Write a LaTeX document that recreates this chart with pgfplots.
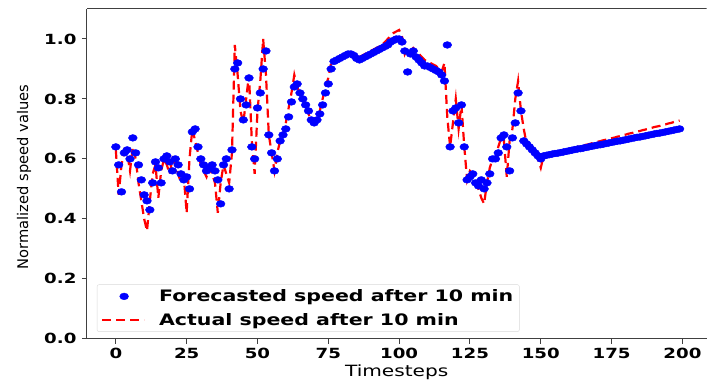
\documentclass[border=0pt]{standalone}
\usepackage{pgfplots}
\usepackage{pgfplotstable}
\pgfplotsset{compat=1.18}
\usepackage{fontspec}
\setmainfont{DejaVu Sans}[FakeStretch=1.3]
\newfontfamily\ylfont{DejaVu Sans}
\pgfplotstableread{
t a f
0 0.63 0.64
1 0.48 0.58
2 0.58 0.49
3 0.63 0.62
4 0.62 0.63
5 0.56 0.60
6 0.64 0.67
7 0.60 0.62
8 0.52 0.58
9 0.46 0.53
10 0.40 0.48
11 0.36 0.46
12 0.46 0.43
13 0.55 0.52
14 0.58 0.59
15 0.47 0.57
16 0.56 0.52
17 0.60 0.60
18 0.58 0.61
19 0.55 0.59
20 0.60 0.56
21 0.58 0.60
22 0.55 0.58
23 0.52 0.55
24 0.54 0.53
25 0.42 0.54
26 0.60 0.50
27 0.70 0.69
28 0.66 0.70
29 0.62 0.64
30 0.58 0.60
31 0.56 0.58
32 0.54 0.56
33 0.57 0.57
34 0.55 0.58
35 0.52 0.56
36 0.42 0.53
37 0.52 0.45
38 0.58 0.58
39 0.55 0.60
40 0.52 0.50
41 0.62 0.63
42 0.98 0.90
43 0.88 0.92
44 0.76 0.80
45 0.72 0.73
46 0.80 0.78
47 0.88 0.87
48 0.66 0.64
49 0.55 0.60
50 0.76 0.77
51 0.86 0.82
52 1.00 0.90
53 0.88 0.96
54 0.68 0.68
55 0.62 0.62
56 0.56 0.56
57 0.62 0.60
58 0.66 0.66
59 0.68 0.68
60 0.72 0.70
61 0.77 0.74
62 0.82 0.79
63 0.88 0.84
64 0.84 0.85
65 0.82 0.82
66 0.80 0.80
67 0.78 0.78
68 0.75 0.76
69 0.73 0.73
70 0.72 0.72
71 0.74 0.73
72 0.76 0.75
73 0.80 0.78
74 0.84 0.82
75 0.87 0.85
76 0.92 0.90
77 0.93 0.925
78 0.935 0.93
79 0.94 0.935
80 0.945 0.94
81 0.95 0.945
82 0.955 0.95
83 0.955 0.95
84 0.95 0.945
85 0.945 0.935
86 0.94 0.93
87 0.945 0.935
88 0.95 0.94
89 0.955 0.945
90 0.96 0.95
91 0.965 0.955
92 0.97 0.96
93 0.975 0.965
94 0.98 0.97
95 0.99 0.975
96 1.00 0.98
97 1.01 0.99
98 1.02 0.995
99 1.025 1.00
100 1.03 1.00
101 1.01 0.99
102 0.95 0.96
103 0.97 0.89
104 0.96 0.95
105 0.97 0.96
106 0.96 0.94
107 0.95 0.93
108 0.94 0.92
109 0.93 0.91
110 0.925 0.91
111 0.92 0.905
112 0.915 0.90
113 0.91 0.895
114 0.90 0.89
115 0.89 0.88
116 0.92 0.86
117 0.74 0.98
118 0.64 0.64
119 0.72 0.76
120 0.80 0.77
121 0.70 0.72
122 0.78 0.78
123 0.64 0.64
124 0.53 0.53
125 0.56 0.54
126 0.55 0.55
127 0.51 0.52
128 0.50 0.51
129 0.47 0.53
130 0.45 0.50
131 0.52 0.52
132 0.57 0.55
133 0.60 0.60
134 0.60 0.60
135 0.64 0.62
136 0.67 0.67
137 0.66 0.68
138 0.54 0.64
139 0.66 0.56
140 0.70 0.67
141 0.80 0.72
142 0.86 0.82
143 0.76 0.76
144 0.70 0.66
145 0.65 0.65
146 0.64 0.64
147 0.63 0.63
148 0.62 0.62
149 0.60 0.61
150 0.57 0.60
151 0.61 0.61
152 0.613 0.612
153 0.615 0.614
154 0.618 0.616
155 0.620 0.618
156 0.623 0.619
157 0.625 0.621
158 0.627 0.623
159 0.630 0.625
160 0.632 0.627
161 0.635 0.629
162 0.637 0.631
163 0.640 0.633
164 0.642 0.634
165 0.645 0.636
166 0.647 0.638
167 0.649 0.640
168 0.652 0.642
169 0.654 0.644
170 0.657 0.646
171 0.659 0.647
172 0.662 0.649
173 0.664 0.651
174 0.666 0.653
175 0.669 0.655
176 0.671 0.657
177 0.674 0.659
178 0.676 0.660
179 0.679 0.662
180 0.681 0.664
181 0.684 0.666
182 0.686 0.668
183 0.688 0.670
184 0.691 0.672
185 0.693 0.673
186 0.696 0.675
187 0.698 0.677
188 0.701 0.679
189 0.703 0.681
190 0.706 0.683
191 0.708 0.685
192 0.710 0.686
193 0.713 0.688
194 0.715 0.690
195 0.718 0.692
196 0.720 0.694
197 0.723 0.696
198 0.725 0.698
199 0.728 0.700
}\datatable
\begin{document}
\begin{tikzpicture}
\begin{axis}[
  name=ax,
  scale only axis,
  width=620pt, height=330pt,
  xmin=-10.2, xmax=208.5,
  ymin=0, ymax=1.1,
  axis x line*=bottom, axis y line*=left,
  axis line style={-, black!75, line width=1pt},
  tick align=outside,
  major tick length=5pt,
  tick style={black!75, line width=1pt},
  xtick={0,25,...,200},
  ytick={0,0.2,...,1.0},
  /pgf/number format/assume math mode=true,
  ticklabel style={font=\fontsize{14}{16}\selectfont\bfseries},
  xticklabel style={yshift=-1pt},
  yticklabel style={xshift=-2pt, /pgf/number format/fixed, /pgf/number format/fixed zerofill, /pgf/number format/precision=1},
  xlabel={Timesteps},
  ylabel={Normalized speed values},
  xlabel style={font=\fontsize{15.5}{17}\selectfont, at={(axis description cs:0.5,0)}, anchor=base, yshift=-38pt},
  ylabel style={font=\ylfont\fontsize{14.7}{17}\selectfont, at={([xshift=-63pt]axis description cs:0,0.49)}, anchor=center},
  legend style={at={(0.016,0.021)}, anchor=south west, draw=black!15, rounded corners=2pt,
    font=\fontsize{15.8}{19}\selectfont\bfseries, row sep=6pt, inner xsep=4pt, inner ysep=3pt},
  legend cell align=left,
]
\addplot[only marks, mark=*, mark size=3.4pt, color=blue, mark options={draw=blue, fill=blue, xscale=1.3},
  legend image code/.code={\path[draw=none, fill=none] (0pt,-3pt) rectangle (55pt,3pt); \draw[mark options={draw=blue, fill=blue, xscale=1.3}] plot[mark=*, mark size=3.4pt] coordinates {(22pt,0pt)};}] table[x=t, y=f] {\datatable};
\addlegendentry{Forecasted speed after 10 min}
\addplot[red, line width=2.2pt, dash pattern=on 9pt off 5pt,
  legend image code/.code={\path[draw=none, fill=none] (0pt,-3pt) rectangle (55pt,3pt); \draw[red, line width=2.2pt, dash pattern=on 9pt off 5pt] (0pt,0pt) -- (42pt,0pt);}] table[x=t, y=a] {\datatable};
\addlegendentry{Actual speed after 10 min}
\draw[black!75, line width=1pt] (rel axis cs:0,1) -- (rel axis cs:1,1);
\end{axis}
\path ([xshift=-87pt,yshift=-42pt]ax.south west) rectangle ([yshift=9pt]ax.north east);
\end{tikzpicture}
\end{document}
